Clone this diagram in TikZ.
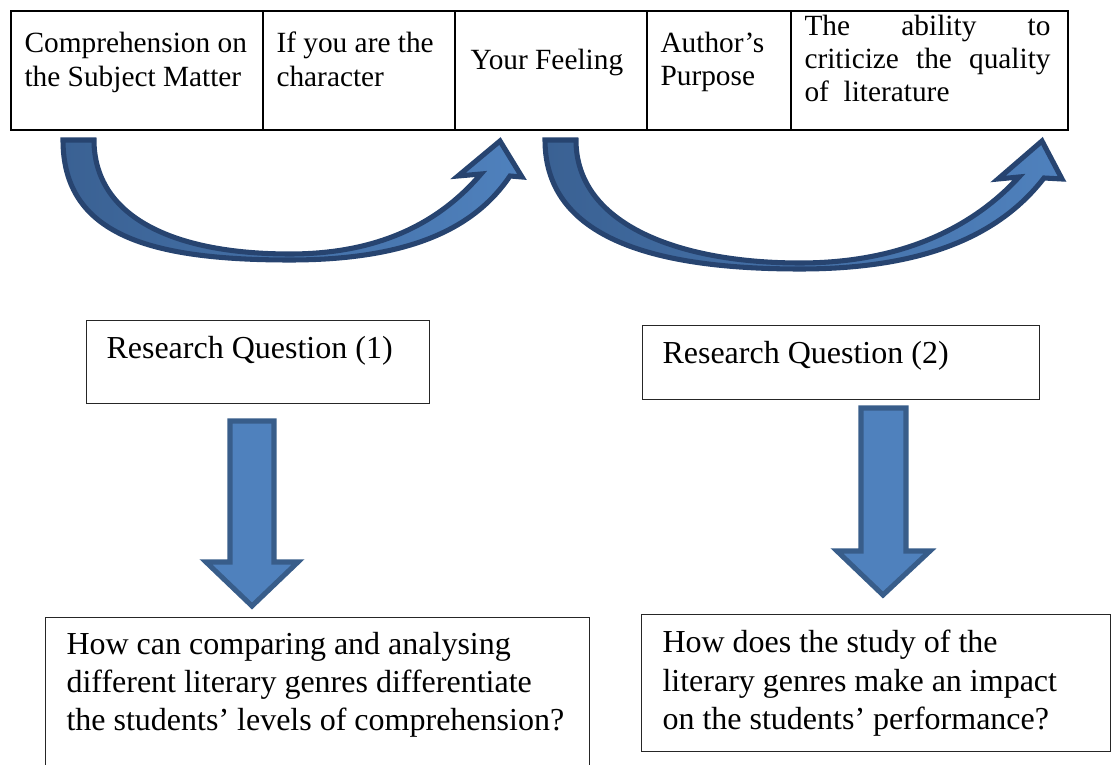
\documentclass[tikz,border=0pt]{standalone}
\usepackage{fontspec}
\setmainfont{Liberation Serif}
\newcommand\PX{0.375pt}
\definecolor{arrowfill}{HTML}{4F81BD}
\definecolor{arrowline}{HTML}{385D8A}
\definecolor{curvedark}{HTML}{3A6193}
\definecolor{curveline}{HTML}{274470}
\begin{document}
\begin{tikzpicture}[x=0.375pt,y=-0.375pt,
  tcell/.style={draw=black, line width=0.75pt, anchor=north west, inner sep=0pt, minimum height=119*\PX},
  ttext/.style={anchor=base west, inner sep=0pt, font=\fontsize{11}{12.5}\selectfont},
  qbox/.style={draw=black!85, line width=0.5pt, anchor=north west, inner sep=0pt},
  qtext/.style={anchor=base west, inner sep=0pt, font=\fontsize{12}{14}\selectfont},
  curvearrow/.style={draw=curveline, line width=1.9pt, line join=miter, left color=curvedark, right color=arrowfill},
  downarrow/.style={draw=arrowline, line width=1.9pt, fill=arrowfill, line join=miter}
]
\useasboundingbox (0,0) rectangle (1113,765);

% table
\node[tcell, minimum width=252*\PX] (c1) at (10,10) {};
\node[tcell, minimum width=192*\PX] (c2) at (262,10) {};
\node[tcell, minimum width=192*\PX] (c3) at (454,10) {};
\node[tcell, minimum width=144*\PX] (c4) at (646,10) {};
\node[tcell, minimum width=277*\PX] (c5) at (790,10) {};

\node[ttext] (c1a) at (24,53) {Comprehension on};
\node[ttext] (c1b) at (24,87) {the Subject Matter};
\node[ttext] (c2a) at (276,53) {If you are the};
\node[ttext] (c2b) at (276,87) {character};
\node[ttext] (c3a) at (470,70) {Your Feeling};
\node[ttext] (c4a) at (660,53) {Author’s};
\node[ttext] (c4b) at (660,86) {Purpose};
\node[ttext] (c5a) at (804,36) {\makebox[92.25pt][s]{The ability to}};
\node[ttext] (c5b) at (804,69) {\makebox[92.25pt][s]{criticize the quality}};
\node[ttext] (c5c) at (804,102) {of\ \ literature};

% curved arrows
\path[curvearrow] (63,140) .. controls (63,235) and (150,260) .. (290,260)
  .. controls (410,260) and (475,228) .. (510,176) -- (522,177) -- (500,141)
  -- (458,176) -- (481,174) .. controls (440,222) and (380,254) .. (290,254)
  .. controls (170,254) and (94,215) .. (94,140) -- cycle;
\path[curvearrow] (545,140) .. controls (545,245) and (670,269) .. (800,269)
  .. controls (925,269) and (1000,235) .. (1044,178) -- (1062,179) -- (1042,141)
  -- (998,179) -- (1019,177) .. controls (975,225) and (905,263) .. (800,263)
  .. controls (680,263) and (576,225) .. (576,140) -- cycle;

% research question boxes
\node[qbox, minimum width=343*\PX, minimum height=83*\PX] (rq1) at (86,320) {};
\node[qtext] (rq1t) at (106,359) {Research Question (1)};
\node[qbox, minimum width=397*\PX, minimum height=74*\PX] (rq2) at (642,325) {};
\node[qtext] (rq2t) at (662,364) {Research Question (2)};

% down arrows
\path[downarrow] (230,421) -- (274,421) -- (274,562) -- (298,562) -- (252,606)
  -- (206,562) -- (230,562) -- cycle;
\path[downarrow] (861,408) -- (906,408) -- (906,551) -- (930,551) -- (883,595)
  -- (837,551) -- (861,551) -- cycle;

% question boxes
\node[qbox, minimum width=544*\PX, minimum height=160*\PX] (q1) at (45,617) {};
\node[qtext] (q1a) at (66,655) {How can comparing and analysing};
\node[qtext] (q1b) at (66,693) {different literary genres differentiate};
\node[qtext] (q1c) at (66,731) {the students’ levels of comprehension?};
\node[qbox, minimum width=469*\PX, minimum height=137*\PX] (q2) at (641,614) {};
\node[qtext] (q2a) at (662,653) {How does the study of the};
\node[qtext] (q2b) at (662,692) {literary genres make an impact};
\node[qtext] (q2c) at (662,730) {on the students’ performance?};
\end{tikzpicture}
\end{document}
